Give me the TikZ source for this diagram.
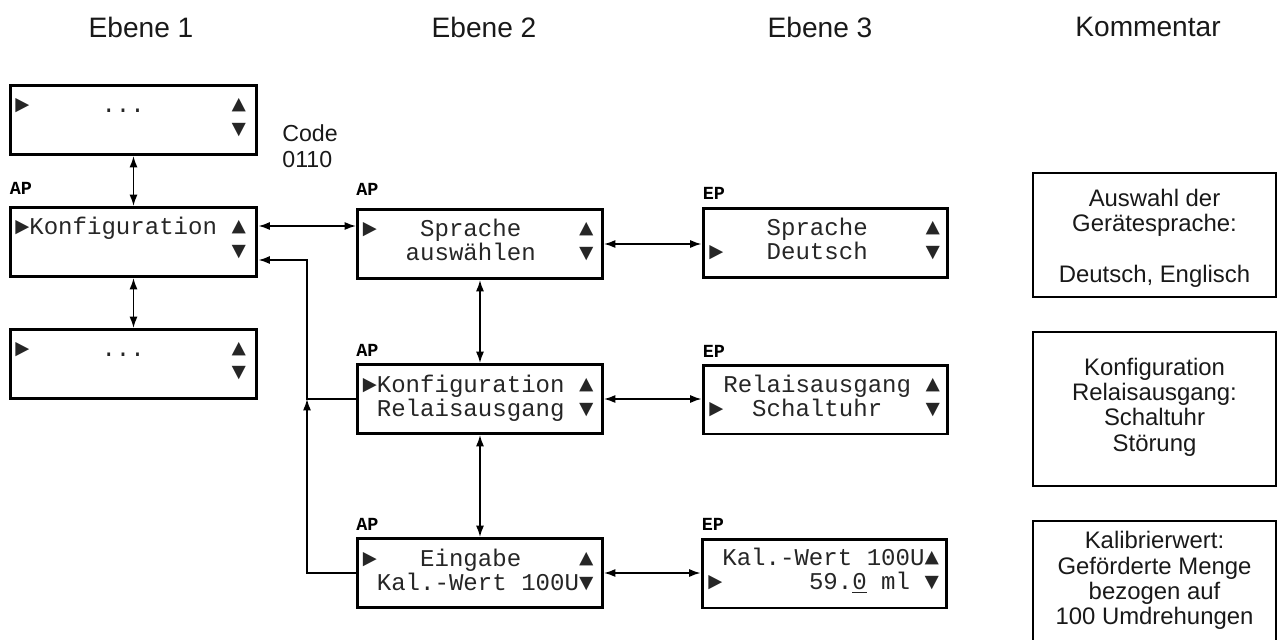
\documentclass[tikz,border=0pt]{standalone}
\usepackage{fontspec}
\setmainfont{Liberation Sans}
\newfontfamily\dmono{Liberation Mono}
\usetikzlibrary{arrows.meta,calc}
\begin{document}
\begin{tikzpicture}[x=0.02cm,y=-0.02cm,
  disp/.style={draw, line width=1.7pt, minimum width=4.9cm, minimum height=1.38cm, inner sep=0pt},
  dl/.style={anchor=base west, inner sep=0pt, text=black!85, font=\dmono\frenchspacing\fontsize{13.7}{13.7}\selectfont},
  lbl/.style={anchor=base west, inner sep=0pt, font=\dmono\bfseries\fontsize{10.5}{10.5}\selectfont},
  ttl/.style={inner sep=0pt, text=black!90, font=\fontsize{16}{18}\selectfont},
  com/.style={draw, line width=1.3pt, minimum width=4.86cm, inner sep=0pt},
  comt/.style={align=center, inner sep=0pt, text=black!90, font=\fontsize{13.6}{14.4}\selectfont},
  tip/.tip={Latex[length=6.5pt,width=4.6pt]},
  con/.style={line width=0.9pt, -tip},
  dbl/.style={line width=0.9pt, tip-tip}
]
\path[use as bounding box] (0,0) rectangle (1277,639);

% titles
\node[ttl] (t1) at (141,27) {Ebene 1};
\node[ttl] (t2) at (484,27) {Ebene 2};
\node[ttl] (t3) at (820,27) {Ebene 3};
\node[ttl] (t4) at (1148,27) {Kommentar};

% display boxes
\node[disp, minimum width=4.94cm] (e1a) at (133.5,120) {};
\node[disp, minimum width=4.94cm] (e1b) at (133.5,242) {};
\node[disp, minimum width=4.94cm] (e1c) at (133.5,364) {};
\node[disp] (e2a) at (480,244) {};
\node[disp] (e2b) at (480,399) {};
\node[disp] (e2c) at (480,573) {};
\node[disp] (e3a) at (825.5,243) {};
\node[disp] (e3b) at (825.5,399.5) {};
\node[disp] (e3c) at (824.5,573.5) {};

% display texts
\node[dl] (e1a1) at ($(e1a.north west)+(6,28)$) {►~~~~~...~~~~~~▲};
\node[dl] (e1a2) at ($(e1a.north west)+(6,52)$) {~~~~~~~~~~~~~~~▼};
\node[dl] (e1b1) at ($(e1b.north west)+(6,28)$) {►Konfiguration~▲};
\node[dl] (e1b2) at ($(e1b.north west)+(6,52)$) {~~~~~~~~~~~~~~~▼};
\node[dl] (e1c1) at ($(e1c.north west)+(6,28)$) {►~~~~~...~~~~~~▲};
\node[dl] (e1c2) at ($(e1c.north west)+(6,51)$) {~~~~~~~~~~~~~~~▼};

\node[dl] (e2a1) at ($(e2a.north west)+(6,28)$) {►~~~Sprache~~~~▲};
\node[dl] (e2a2) at ($(e2a.north west)+(6,52)$) {~~~auswählen~~~▼};
\node[dl] (e2b1) at ($(e2b.north west)+(6,29)$) {►Konfiguration~▲};
\node[dl] (e2b2) at ($(e2b.north west)+(6,53)$) {~Relaisausgang~▼};
\node[dl] (e2c1) at ($(e2c.north west)+(6,29)$) {►~~~Eingabe~~~~▲};
\node[dl] (e2c2) at ($(e2c.north west)+(6,53)$) {~Kal.-Wert~100U▼};

\node[dl] (e3a1) at ($(e3a.north west)+(7,28)$) {~~~~Sprache~~~~▲};
\node[dl] (e3a2) at ($(e3a.north west)+(7,52)$) {►~~~Deutsch~~~~▼};
\node[dl] (e3b1) at ($(e3b.north west)+(7,29)$) {~Relaisausgang~▲};
\node[dl] (e3b2) at ($(e3b.north west)+(7,53)$) {►~~Schaltuhr~~~▼};
\node[dl] (e3c1) at ($(e3c.north west)+(7,28)$) {~Kal.-Wert~100U▲};
\node[dl] (e3c2) at ($(e3c.north west)+(7,52)$) {►~~~~~~59.\underline{0}~ml~▼};

% AP / EP labels
\node[lbl] (l1) at ($(e1b.north west)+(1,-12)$) {AP};
\node[lbl] (l2) at ($(e2a.north west)+(0,-13)$) {AP};
\node[lbl] (l3) at ($(e2b.north west)+(0,-7)$) {AP};
\node[lbl] (l4) at ($(e2c.north west)+(0,-7)$) {AP};
\node[lbl] (l5) at ($(e3a.north west)+(1,-8)$) {EP};
\node[lbl] (l6) at ($(e3b.north west)+(1,-6)$) {EP};
\node[lbl] (l7) at ($(e3c.north west)+(1,-7)$) {EP};

% code label
\node[anchor=base west, inner sep=0pt, align=left, text=black!90, font=\fontsize{13.2}{14.7}\selectfont] (code) at (282,167) {Code\\0110};

% comment boxes
\node[com, minimum height=2.48cm] (c1) at (1154.5,235) {};
\node[comt] (c1t) at (1154.5,238) {Auswahl der\\Gerätesprache:\\[14.4pt]Deutsch, Englisch};
\node[com, minimum height=3.08cm] (c2) at (1154.5,409) {};
\node[comt] (c2t) at (1154.5,407) {Konfiguration\\Relaisausgang:\\Schaltuhr\\Störung};
\node[com, minimum height=2.8cm, anchor=north] (c3) at (1154.5,520) {};
\node[comt] (c3t) at (1154.5,580.5) {Kalibrierwert:\\Geförderte Menge\\bezogen auf\\100 Umdrehungen};

% connectors
\draw[dbl] (e1a) -- (e1b);
\draw[dbl] (e1b) -- (e1c);
\coordinate (k1) at ($(e1b.east)+(0,-16)$);
\coordinate (k2) at ($(e1b.east)+(0,18)$);
\draw[dbl] (k1) -- (k1 -| e2a.west);
\coordinate (j) at (307,399);
\draw[con] (e2b.west) -- (j) |- (k2);
\draw[con] (e2c.west) -| (j);
\draw[dbl] (e2a) -- (e2b);
\draw[dbl] (e2b) -- (e2c);
\draw[dbl] (e2a.east) -- (e2a.east -| e3a.west);
\draw[dbl] (e2b.east) -- (e2b.east -| e3b.west);
\draw[dbl] (e2c.east) -- (e2c.east -| e3c.west);
\end{tikzpicture}
\end{document}
